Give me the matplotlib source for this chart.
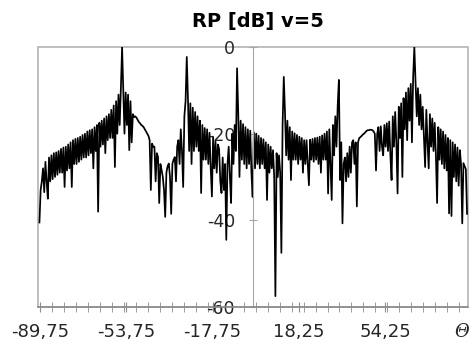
import numpy as np
import matplotlib
matplotlib.use("Agg")
import matplotlib.pyplot as plt
from matplotlib.patches import Rectangle

# angle grid (deg) and pattern values (dB)
theta_start = -90.0
theta_step = 0.5

rp_db = [
    # -90 .. -85.5
    -40.5, -33, -31, -28, -33.5, -26.5, -31, -35, -25.5, -31,
    # -85 .. -80.5
    -25, -30.5, -24.5, -30, -24.3, -29.5, -24, -29, -23.5, -29,
    # -80 .. -75.5
    -23.2, -32.3, -23, -28.5, -22.5, -28, -22, -32.3, -21.5, -27,
    # -75 .. -70.5
    -21.2, -27, -21, -26.5, -20.7, -26, -20.3, -25.5, -20, -25.5,
    # -70 .. -65.5
    -19.5, -25, -19.2, -24.5, -19, -28, -18.5, -24, -18, -38,
    # -65 .. -60.5
    -17.5, -23, -17, -22.5, -16.5, -24.5, -16, -21.5, -15.5, -21,
    # -60 .. -55.5
    -14.5, -21, -13.5, -27.7, -12.5, -20, -11, -18, -9.5, 0,
    # -55 .. -50.5
    -10, -20, -10.5, -18, -11, -23.8, -12.5, -22, -15.5, -16.2,
    # -50 .. -45.5
    -16, -16.3, -16.8, -17.3, -17.6, -18, -18.2, -18.5, -19, -19.5,
    # -45 .. -40.5
    -20, -20.5, -21.5, -33, -22.3, -23, -23, -31, -24.5, -25.4,
    # -40 .. -35.5
    -36, -27, -28.4, -30, -33, -39.2, -29, -27.5, -26.9, -30,
    # -35 .. -30.5
    -38.5, -27, -26, -25.4, -31, -23, -21.5, -27, -19, -24,
    # -30 .. -25.5
    -32.3, -16, -12.5, -2.3, -12, -24, -13, -27, -14, -24,
    # -25 .. -20.5
    -15, -23, -16, -24, -17, -33.7, -18, -26, -18.7, -26,
    # -20 .. -15.5
    -19, -27, -19.8, -28, -34.5, -20.8, -28, -21.8, -29, -22.5,
    # -15 .. -10.5
    -23.5, -31, -33.7, -25.5, -33, -27, -44.5, -27, -23, -30,
    # -10 .. -5.5
    -36, -20, -27, -18, -24, -4.9, -15.5, -30, -17, -26,
    # -5 .. -0.5
    -17.8, -27, -18.5, -28, -19, -27, -19.3, -29, -34.6, -19.7,
    # 0 .. 4.5
    -28, -20, -27, -20.5, -28, -21, -27, -21.3, -28, -22,
    # 5 .. 9.5
    -35.3, -22.5, -29, -23, -28, -23.8, -30, -57.5, -24.5, -30,
    # 10 .. 14.5
    -25, -29, -47.5, -18, -6.9, -15, -25, -17, -26, -18.5,
    # 15 .. 19.5
    -30.7, -19.5, -26, -19.9, -26, -20.3, -27, -20.7, -26, -21,
    # 20 .. 24.5
    -29, -21.5, -27, -21.5, -27, -31.9, -21.4, -26, -21.2, -26.5,
    # 25 .. 29.5
    -21, -26, -20.9, -27, -20.7, -29, -20.4, -26, -20, -26,
    # 30 .. 34.5
    -19.5, -33.8, -19, -27, -35.3, -18, -25, -16, -23, -13.5,
    # 35 .. 39.5
    -7.6, -30.7, -22, -40.7, -27, -25.5, -31, -24.5, -30, -23,
    # 40 .. 44.5
    -29, -22, -21.5, -27, -22, -36.8, -22, -21, -20.8, -20.5,
    # 45 .. 49.5
    -20.2, -20, -19.7, -19.4, -19.2, -19.2, -19.1, -19.1, -19.2, -19.5,
    # 50 .. 54.5
    -20, -28.5, -20, -18.5, -24, -18.3, -23, -25, -18, -23,
    # 55 .. 59.5
    -17.6, -24, -17.2, -25, -30.7, -16, -23, -15, -22, -33.8,
    # 60 .. 64.5
    -13.8, -21, -13, -30, -11.8, -19, -10.5, -21.5, -9.5, -17,
    # 65 .. 69.5
    -8.5, -22, -7, 0, -8, -16, -9.5, -18, -11, -19,
    # 70 .. 74.5
    -13.8, -21, -27.7, -14.5, -22, -28, -15.5, -23, -16.5, -24,
    # 75 .. 79.5
    -17.5, -25, -36, -18.5, -26, -19, -27, -19.5, -28, -20.3,
    # 80 .. 84.5
    -28.5, -21, -38.4, -21.5, -39, -22, -30, -22.5, -31, -23.2,
    # 85 .. 88.5
    -32, -23.8, -27, -40.7, -26.8, -27.5, -28.2, -38.5,
]

theta = theta_start + theta_step * np.arange(len(rp_db))

x_tick_pos = [-89.75, -53.75, -17.75, 18.25, 54.25]
x_tick_labels = ["-89,75", "-53,75", "-17,75", "18,25", "54,25"]
y_ticks = [0, -20, -40, -60]
y_tick_labels = ["0", "-20", "-40", "-60"]

fig = plt.figure(figsize=(4.73, 3.54), dpi=100)
ax = fig.add_axes([38 / 473, 47 / 354, 430 / 473, 260 / 354])

ax.plot(theta, rp_db, color="black", linewidth=1.25)

ax.set_xlim(-90.6, 88.9)
ax.set_ylim(-60, 0)

# plot area border
ax.add_patch(Rectangle((0, 0), 1, 1, transform=ax.transAxes, fill=False,
                       edgecolor="#b4b4b4", linewidth=1.2, clip_on=False, zorder=0))

for s in ["top", "right"]:
    ax.spines[s].set_visible(False)
# value axis crosses where the category axis puts it
ax.spines["left"].set_position(("data", -0.8))
ax.spines["left"].set_color("#a6a6a6")
ax.spines["bottom"].set_color("#8c8c8c")
ax.spines["bottom"].set_linewidth(1.2)

ax.set_yticks(y_ticks)
ax.set_yticklabels(y_tick_labels)
ax.tick_params(axis="y", direction="inout", length=6, color="#a6a6a6",
               labelsize=12.5, labelcolor="#262626", pad=10)

ax.set_xticks(x_tick_pos)
ax.set_xticklabels(x_tick_labels)
ax.set_xticks(np.arange(-89.75, 88.9, 5), minor=True)
ax.tick_params(axis="x", which="both", direction="inout", length=7,
               color="#8c8c8c", labelsize=13, labelcolor="#262626", pad=8)

ax.text(0.985, -0.095, "Θ", transform=ax.transAxes, ha="center", va="center",
        fontsize=13, style="italic", family="DejaVu Serif", color="#262626")

fig.text(258 / 473, 1 - 21 / 354, "RP [dB] v=5", ha="center", va="center",
         fontsize=14, fontweight="bold", color="black")

fig.savefig("out.png", dpi=100)
